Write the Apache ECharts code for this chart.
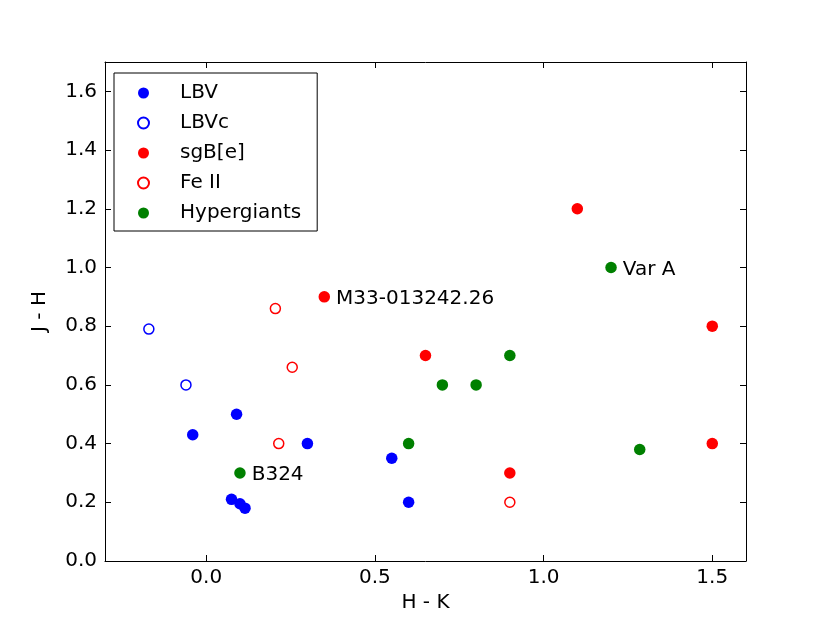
<!DOCTYPE html>
<html>
<head>
<meta charset="utf-8">
<style>
  html, body { margin: 0; padding: 0; background: #fff; }
  #chart { width: 830px; height: 623px; }
</style>
<script src="https://cdn.jsdelivr.net/npm/echarts@6/dist/echarts.min.js"></script>
</head>
<body>
<div id="chart"></div>
<script>
// 数据：[H-K, J-H]
const lbv = [[0.09, 0.50], [-0.04, 0.43], [0.30, 0.40], [0.55, 0.35], [0.60, 0.20],
             [0.075, 0.21], [0.10, 0.195], [0.115, 0.18]];
const lbvc = [[-0.17, 0.79], [-0.06, 0.60]];
const sgbe = [[1.10, 1.20], [0.35, 0.90], [0.65, 0.70], [1.50, 0.80], [1.50, 0.40], [0.90, 0.30]];
const feII = [[0.205, 0.86], [0.255, 0.66], [0.215, 0.40], [0.90, 0.20]];
const hyper = [[1.20, 1.00], [0.90, 0.70], [0.70, 0.60], [0.80, 0.60], [0.60, 0.40],
               [1.285, 0.38], [0.10, 0.30]];

// 标注：点 -> 名称
const notes = [
  { point: [0.35, 0.90], text: 'M33-013242.26' },
  { point: [1.20, 1.00], text: 'Var A' },
  { point: [0.10, 0.30], text: 'B324' }
];

const xTicks = [0.0, 0.5, 1.0, 1.5];
const yTicks = [0.0, 0.2, 0.4, 0.6, 0.8, 1.0, 1.2, 1.4, 1.6];

const font = 'DejaVu Sans';
const fs = 20;

// 给数据加上标注
function withNotes(points) {
  return points.map(p => {
    const note = notes.find(n => n.point[0] === p[0] && n.point[1] === p[1]);
    if (!note) return p;
    return {
      value: p,
      label: {
        show: true, position: 'right', distance: 6, formatter: note.text,
        color: '#000', fontFamily: font, fontSize: fs, offset: [0, 2]
      }
    };
  });
}

function scatter(name, points, color, open) {
  return {
    name: name,
    type: 'scatter',
    symbol: 'circle',
    symbolSize: open ? 10 : 11.5,
    data: withNotes(points),
    itemStyle: open
      ? { color: '#fff', borderColor: color, borderWidth: 1.5, opacity: 1 }
      : { color: color, borderWidth: 0, opacity: 1 },
    emphasis: { disabled: true },
    z: 3
  };
}

const axisLineStyle = { show: true, onZero: false, lineStyle: { color: '#000', width: 1 } };
const tick = vals => ({ show: true, inside: true, length: 6, customValues: vals, lineStyle: { color: '#000' } });

const chart = echarts.init(document.getElementById('chart'));
chart.setOption({
  animation: false,
  backgroundColor: '#fff',
  grid: { left: 105, right: 84, top: 62, bottom: 62, containLabel: false },
  legend: {
    left: 114, top: 73,
    orient: 'vertical',
    itemWidth: 11, itemHeight: 11,
    itemGap: 10,
    padding: [10, 16, 8, 23],
    borderColor: '#000', borderWidth: 1,
    backgroundColor: '#fff',
    textStyle: { fontFamily: font, fontSize: fs, color: '#000', padding: [0, 0, 0, 26] },
    data: ['LBV', 'LBVc', 'sgB[e]', 'Fe II', 'Hypergiants']
  },
  xAxis: [{
    type: 'value', min: -0.3, max: 1.6,
    name: 'H - K', nameLocation: 'middle', nameGap: 32,
    nameTextStyle: { fontFamily: font, fontSize: fs, color: '#000' },
    axisLine: axisLineStyle, axisTick: tick(xTicks),
    splitLine: { show: false },
    axisLabel: {
      fontFamily: font, fontSize: fs, color: '#000', margin: 7,
      customValues: xTicks, formatter: v => v.toFixed(1)
    }
  }, {
    type: 'value', min: -0.3, max: 1.6, position: 'top',
    axisLine: axisLineStyle, axisTick: tick(xTicks),
    splitLine: { show: false },
    axisLabel: { show: false, customValues: xTicks }
  }],
  yAxis: [{
    type: 'value', min: 0, max: 1.7,
    name: 'J - H', nameLocation: 'middle', nameGap: 55, nameRotate: 90,
    nameTextStyle: { fontFamily: font, fontSize: fs, color: '#000' },
    axisLine: axisLineStyle, axisTick: tick(yTicks),
    splitLine: { show: false },
    axisLabel: {
      fontFamily: font, fontSize: fs, color: '#000', margin: 8,
      customValues: yTicks, formatter: v => v.toFixed(1)
    }
  }, {
    type: 'value', min: 0, max: 1.7, position: 'right',
    axisLine: axisLineStyle, axisTick: tick(yTicks),
    splitLine: { show: false },
    axisLabel: { show: false, customValues: yTicks }
  }],
  series: [
    scatter('LBV', lbv, '#0000ff', false),
    scatter('LBVc', lbvc, '#0000ff', true),
    scatter('sgB[e]', sgbe, '#ff0000', false),
    scatter('Fe II', feII, '#ff0000', true),
    scatter('Hypergiants', hyper, '#008000', false)
  ]
});
</script>
</body>
</html>
